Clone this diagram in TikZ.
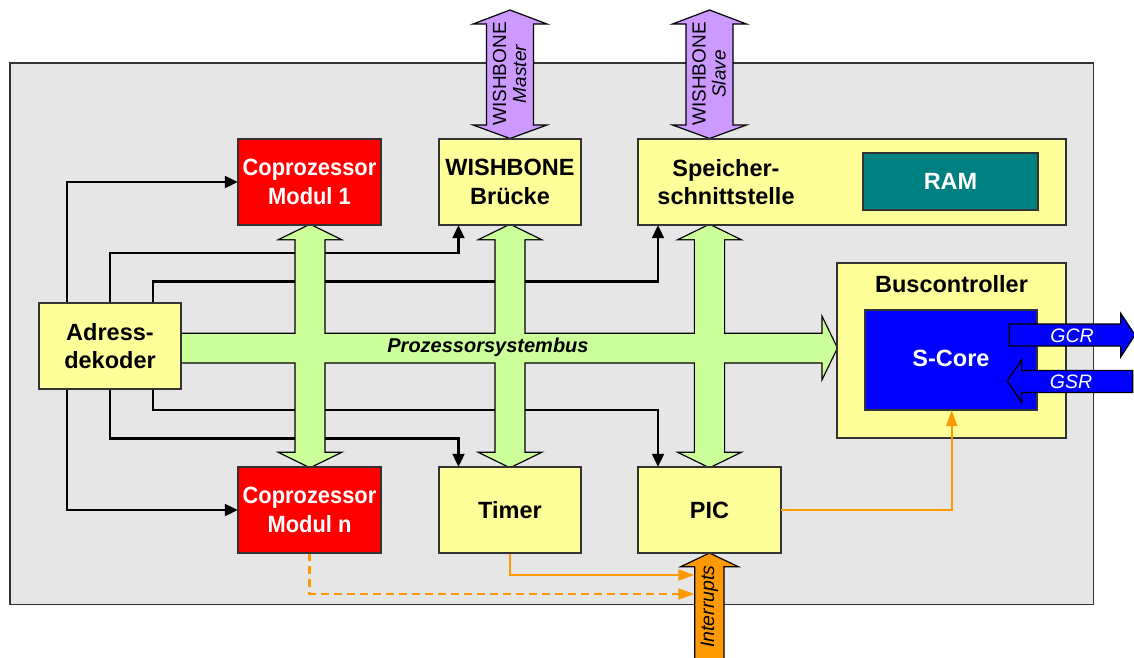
\documentclass[tikz,border=0pt]{standalone}
\usepackage{fontspec}
\setmainfont{Liberation Sans}
\newfontfamily\condfont[FakeStretch=0.93]{Liberation Sans}
\usetikzlibrary{arrows.meta}
\definecolor{bggray}{RGB}{230,230,230}
\definecolor{boxyellow}{RGB}{255,255,153}
\definecolor{busgreen}{RGB}{204,255,153}
\definecolor{wbpurple}{RGB}{204,153,255}
\definecolor{orangec}{RGB}{255,153,0}
\definecolor{coproRed}{RGB}{255,0,0}
\definecolor{ramteal}{RGB}{0,128,128}
\definecolor{coreblue}{RGB}{0,0,255}
\tikzset{
  box/.style={draw=black!80, line width=1.3pt, inner sep=0pt, align=center,
    font=\fontsize{23.5}{28.5}\selectfont\bfseries},
  ybox/.style={box, fill=boxyellow},
  cbox/.style={box, fill=coproRed, text=white, font=\fontsize{23.5}{28.5}\selectfont\condfont\bfseries},
  lbl/.style={inner sep=0pt, align=center, font=\fontsize{23.5}{28.5}\selectfont\bfseries},
  blk/.style={draw=black, line width=2.1pt, -{Triangle[length=13pt,width=12pt]}},
  org/.style={draw=orangec, line width=2.1pt, -{Triangle[length=16pt,width=11pt]}},
  busstroke/.style={draw=black, line width=2.6pt},
  busfill/.style={fill=busgreen},
  fat/.style={draw=black, line width=1.2pt},
  smalltxt/.style={inner sep=0pt, align=center, font=\fontsize{19}{20}\selectfont}
}
\begin{document}
\begin{tikzpicture}[x=1pt,y=-1pt]
\useasboundingbox (0,0) rectangle (1134,657);
% background
\draw[fill=bggray, draw=black!80, line width=1.3pt] (10,63) rectangle (1093.5,604.5);

% invisible placeholders for connectors
\path (110,346) node[minimum width=142pt, minimum height=86pt, inner sep=0pt] (ad) {};
\path (309.5,182) node[minimum width=143pt, minimum height=86pt, inner sep=0pt] (c1) {};
\path (510,182) node[minimum width=142pt, minimum height=86pt, inner sep=0pt] (wb) {};
\path (852,182) node[minimum width=428pt, minimum height=86pt, inner sep=0pt] (sp) {};
\path (309.5,510) node[minimum width=143pt, minimum height=86pt, inner sep=0pt] (cn) {};
\path (510,510) node[minimum width=142pt, minimum height=86pt, inner sep=0pt] (tm) {};
\path (709.5,510) node[minimum width=143pt, minimum height=86pt, inner sep=0pt] (pic) {};
\path (951.5,350.5) node[minimum width=229pt, minimum height=175pt, inner sep=0pt] (bc) {};
\path (951,360) node[minimum width=172pt, minimum height=100pt, inner sep=0pt] (sc) {};
\coordinate (ia) at (694.3,575);
\coordinate (ib) at (694.3,594);

\draw[blk] ([xshift=-43pt]ad.north) |- (c1.west);
\draw[blk] (ad.north) -- ++(0,-50) -| ([xshift=-51.5pt]wb.south);
\draw[blk] ([xshift=43pt]ad.north) -- ++(0,-21.3) -| ([xshift=-194pt]sp.south);
\draw[blk] ([xshift=-43pt]ad.south) |- (cn.west);
\draw[blk] (ad.south) -- ++(0,49.3) -| ([xshift=-51.5pt]tm.north);
\draw[blk] ([xshift=43pt]ad.south) -- ++(0,21) -| ([xshift=-51.5pt]pic.north);

% orange lines into the interrupt input
\draw[org] (tm.south) |- (ia);
\draw[org, dash pattern=on 8pt off 5pt] (cn.south) |- (ib);

% buses: union outline trick
\foreach \x in {310,510,709.5} {
  \path[busstroke] (\x,225) -- (\x+28.7,239) -- (\x+14.3,239) -- (\x+14.3,453) -- (\x+28.7,453) -- (\x,467)
    -- (\x-28.7,453) -- (\x-14.3,453) -- (\x-14.3,239) -- (\x-28.7,239) -- cycle;
}
\path[busstroke] (181,334) -- (822.7,334) -- (822.7,319.3) -- (836.7,348) -- (822.7,376.7) -- (822.7,362.3) -- (181,362.3) -- cycle;
\foreach \x in {310,510,709.5} {
  \path[busfill] (\x,225) -- (\x+28.7,239) -- (\x+14.3,239) -- (\x+14.3,453) -- (\x+28.7,453) -- (\x,467)
    -- (\x-28.7,453) -- (\x-14.3,453) -- (\x-14.3,239) -- (\x-28.7,239) -- cycle;
}
\path[busfill] (181,334) -- (822.7,334) -- (822.7,319.3) -- (836.7,348) -- (822.7,376.7) -- (822.7,362.3) -- (181,362.3) -- cycle;
\node[inner sep=0pt, font=\fontsize{20}{22}\selectfont\bfseries\itshape] (busl) at (488,347) {Prozessorsystembus};

% WISHBONE arrows
\foreach \x/\t in {510/Master, 709.5/Slave} {
  \path[fat, fill=wbpurple] (\x,10) -- (\x+37,24) -- (\x+23.5,24) -- (\x+23.5,125) -- (\x+37,125) -- (\x,138.5)
    -- (\x-37,125) -- (\x-23.5,125) -- (\x-23.5,24) -- (\x-37,24) -- cycle;
  \node[smalltxt, rotate=90] at (\x-0.5,74) {WISHBONE\\\itshape \t};
}

% Interrupts arrow
\path[fat, fill=orangec] (709.5,553) -- (738.3,566.7) -- (724,566.7) -- (724,660) -- (694.8,660) -- (694.8,566.7) -- (680.7,566.7) -- cycle;
\node[smalltxt, font=\fontsize{19.5}{20}\selectfont\itshape, rotate=90] (intl) at (709.5,606.5) {Interrupts};

% boxes
\node[cbox, minimum width=143pt, minimum height=86pt] at (c1) {Coprozessor\\Modul 1};
\node[ybox, minimum width=142pt, minimum height=86pt] at (wb) {WISHBONE\\Brücke};
\node[ybox, minimum width=428pt, minimum height=86pt] at (sp) {};
\node[lbl] (spt) at (726,182) {Speicher-\\schnittstelle};
\node[box, fill=ramteal, text=white, minimum width=175pt, minimum height=57pt] (ram) at (950.5,181.5) {RAM};
\node[ybox, minimum width=229pt, minimum height=175pt] at (bc) {};
\node[lbl] (bct) at (951.5,284) {Buscontroller};
\node[box, fill=coreblue, text=white, minimum width=172pt, minimum height=100pt] at (sc) {};
\node[lbl, text=white] (sct) at (951,358) {S-Core};
\node[ybox, minimum width=142pt, minimum height=86pt] at (ad) {Adress-\\dekoder};
\node[cbox, minimum width=143pt, minimum height=86pt] at (cn) {Coprozessor\\Modul n};
\node[ybox, minimum width=142pt, minimum height=86pt] at (tm) {Timer};
\node[ybox, minimum width=143pt, minimum height=86pt] at (pic) {PIC};

% PIC -> S-Core interrupt line (over the Buscontroller box)
\draw[org] (pic.east) -| ([xshift=0.7pt]sc.south);

% GCR / GSR
\path[fat, fill=coreblue] (1009.3,324) -- (1120.7,324) -- (1120.7,313.3) -- (1135,335) -- (1120.7,357) -- (1120.7,346) -- (1009.3,346) -- cycle;
\node[smalltxt, font=\fontsize{19.5}{20}\selectfont\itshape, text=white] (gcr) at (1072,335.5) {GCR};
\path[fat, fill=coreblue] (1007.3,381) -- (1021.7,359.5) -- (1021.7,370.5) -- (1132.7,370.5) -- (1132.7,392.5) -- (1021.7,392.5) -- (1021.7,402.5) -- cycle;
\node[smalltxt, font=\fontsize{19.5}{20}\selectfont\itshape, text=white] (gsr) at (1071,381.5) {GSR};
\end{tikzpicture}
\end{document}
